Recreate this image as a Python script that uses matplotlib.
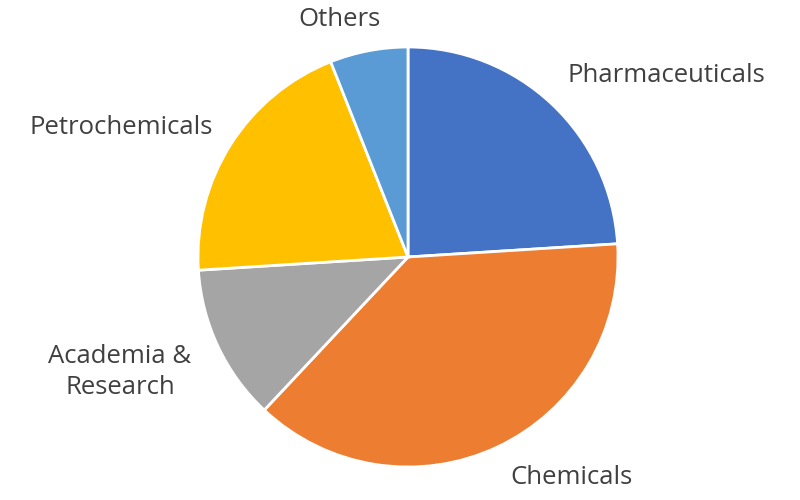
import matplotlib
matplotlib.use("Agg")
import matplotlib.pyplot as plt

# share of each segment (%), clockwise from 12 o'clock
segments = ['Pharmaceuticals', 'Chemicals', 'Academia &\nResearch', 'Petrochemicals', 'Others']
shares = [24, 38, 12, 20, 6]
colors = ['#4472C4', '#ED7D31', '#A5A5A5', '#FFC000', '#5B9BD5']

# where each label sits (pixel coords, y up) and its alignment
label_pos = [(568, 424, 'left'), (510, 22, 'left'), (120, 128, 'center'),
             (30, 372, 'left'), (340, 480, 'center')]

plt.rcParams['font.family'] = ['Open Sans', 'DejaVu Sans']

fig = plt.figure(figsize=(8, 5), dpi=100)
ax = fig.add_axes([0, 0, 1, 1])
ax.pie(shares, colors=colors, startangle=90, counterclock=False,
       center=(408, 243), radius=210,
       wedgeprops=dict(edgecolor='white', linewidth=2))
ax.set_xlim(0, 800)
ax.set_ylim(0, 500)
ax.set_aspect('equal')
ax.axis('off')

for name, (x, y, ha) in zip(segments, label_pos):
    ax.text(x, y, name, ha=ha, va='center', fontsize=18.5, color='#404040',
            linespacing=1.35)

fig.savefig('out.png', dpi=100)
